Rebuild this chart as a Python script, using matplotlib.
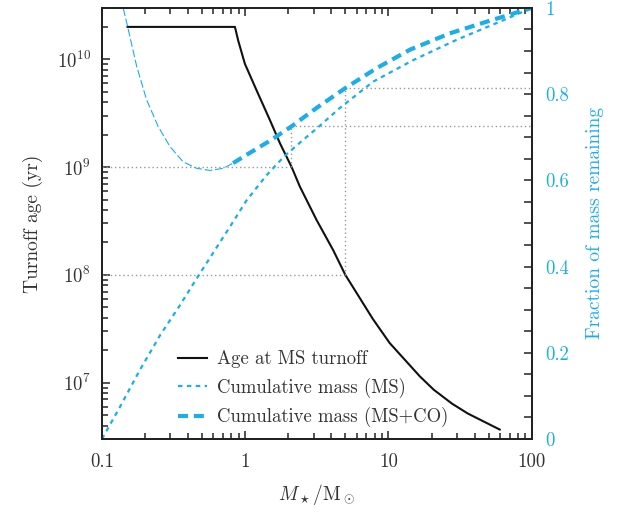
import matplotlib
matplotlib.use('Agg')
import matplotlib.pyplot as plt
from matplotlib.ticker import LogLocator, MultipleLocator, FixedLocator, FixedFormatter

plt.rcParams['font.family'] = 'cmr10'
plt.rcParams['mathtext.fontset'] = 'cm'
plt.rcParams['axes.formatter.use_mathtext'] = True

# turnoff age vs stellar mass
m_age = [0.151, 0.848, 0.893, 0.995, 1.20, 1.49, 1.75, 2.11, 2.41, 3.15, 4.11, 5.0,
         7.78, 10.2, 16.6, 20.7, 27.7, 35.8, 59.8]
age = [2e10, 2e10, 1.5e10, 9.1e9, 5.17e9, 2.72e9, 1.66e9, 1.0e9, 6.58e8, 3.23e8, 1.7e8, 1e8,
       3.9e7, 2.33e7, 1.14e7, 8.6e6, 6.4e6, 5.17e6, 3.67e6]

# cumulative mass, MS only
m_ms = [0.1, 0.134, 0.184, 0.254, 0.35, 0.47, 0.631, 0.824, 1.02, 1.41, 1.89, 2.54,
        3.15, 4.58, 7.82, 14.9, 29.9, 59.8, 100]
frac_ms = [0.0, 0.075, 0.16, 0.24, 0.31, 0.378, 0.444, 0.504, 0.553, 0.612, 0.657, 0.694,
           0.72, 0.768, 0.829, 0.879, 0.926, 0.968, 1.0]

# cumulative mass, MS+CO (thin part below turnoff of oldest stars)
m_ext = [0.141, 0.153, 0.175, 0.205, 0.247, 0.299, 0.369, 0.458, 0.568, 0.703, 0.824]
frac_ext = [0.999, 0.949, 0.864, 0.787, 0.725, 0.678, 0.643, 0.628, 0.623, 0.628, 0.640]
m_co = [0.824, 1.08, 1.49, 2.1, 3.15, 4.34, 5.0, 8.24, 14.1, 26.8, 48.4, 100]
frac_co = [0.640, 0.664, 0.692, 0.725, 0.768, 0.80, 0.814, 0.86, 0.903, 0.941, 0.968, 1.0]

# guide lines: turnoff mass at 1 Gyr and 100 Myr
guide_mass = [2.1, 5.0]
guide_age = [1e9, 1e8]
guide_frac = [0.725, 0.814]

cyan = '#1aaeea'
dark = '#333333'
grey = '#999999'

fig = plt.figure(figsize=(6.33, 5.15), dpi=100)
ax1 = fig.add_axes([0.161, 0.1476, 0.679, 0.837])
ax2 = ax1.twinx()

ax1.set_xscale('log')
ax1.set_yscale('log')
ax1.set_xlim(0.1, 100)
ax1.set_ylim(3e6, 3e10)
ax2.set_ylim(0, 1)

for m, a, f in zip(guide_mass, guide_age, guide_frac):
    ax1.plot([0.1, m], [a, a], color=grey, lw=1.0, ls=(0, (1, 2)))
    ax2.plot([m, m], [ax2.transData.inverted().transform(ax1.transData.transform((m, a)))[1], f],
             color=grey, lw=1.0, ls=(0, (1, 2)))
    ax2.plot([m, 100], [f, f], color=grey, lw=1.0, ls=(0, (1, 2)))

ax1.plot(m_age, age, color='#111111', lw=1.5)
ax2.plot(m_ext, frac_ext, color=cyan, lw=0.8, ls=(0, (7, 2.5)))
ax2.plot(m_ms, frac_ms, color=cyan, lw=1.6, ls=(0, (2, 2)))
ax2.plot(m_co, frac_co, color=cyan, lw=3.0, ls=(0, (2.4, 1.4)))

# legend handles
h1, = ax1.plot([], [], color='#111111', lw=1.5, label='Age at MS turnoff')
h2, = ax1.plot([], [], color=cyan, lw=1.6, ls=(0, (2, 2)), label='Cumulative mass (MS)')
h3, = ax1.plot([], [], color=cyan, lw=3.0, ls=(0, (2.4, 1.4)), label='Cumulative mass (MS+CO)')
leg = ax1.legend(handles=[h1, h2, h3], loc='lower left', bbox_to_anchor=(0.138, -0.012),
                 frameon=False, fontsize=13.5, handlelength=1.55, handletextpad=0.5,
                 labelspacing=0.5)
for t in leg.get_texts():
    t.set_color(dark)

ax1.xaxis.set_major_locator(FixedLocator([0.1, 1, 10, 100]))
ax1.xaxis.set_major_formatter(FixedFormatter(['0.1', '1', '10', '100']))
ax1.xaxis.set_minor_locator(LogLocator(base=10, subs=range(2, 10), numticks=20))
ax1.yaxis.set_major_locator(LogLocator(base=10, numticks=20))
ax1.yaxis.set_minor_locator(LogLocator(base=10, subs=range(2, 10), numticks=20))
ax2.yaxis.set_major_locator(FixedLocator([0, 0.2, 0.4, 0.6, 0.8, 1.0]))
ax2.yaxis.set_major_formatter(FixedFormatter(['0', '0.2', '0.4', '0.6', '0.8', '1']))
ax2.yaxis.set_minor_locator(MultipleLocator(0.05))

ax1.tick_params(axis='both', which='both', direction='in', top=True, right=False,
                colors='#222222', labelcolor=dark, labelsize=13.5, width=1.1)
ax1.tick_params(which='major', length=6, pad=8)
ax1.tick_params(which='minor', length=4)
ax1.tick_params(axis='x', pad=10)
ax2.tick_params(axis='y', which='both', direction='in', colors='#222222',
                labelcolor=cyan, labelsize=13.5, width=1.1)
ax2.tick_params(which='major', length=6, pad=10)
ax2.tick_params(which='minor', length=6)

for sp in ax1.spines.values():
    sp.set_linewidth(1.4)
    sp.set_color('#222222')
for sp in ax2.spines.values():
    sp.set_linewidth(1.4)
    sp.set_color('#222222')

ax1.set_xlabel(r'$M_\star/\mathrm{M}_\odot$', fontsize=14, color=dark, labelpad=8)
ax1.set_ylabel('Turnoff age (yr)', fontsize=14, color=dark, labelpad=10)
ax2.set_ylabel('Fraction of mass remaining', fontsize=14, color=cyan, labelpad=12)

fig.savefig('out.png', dpi=100)
